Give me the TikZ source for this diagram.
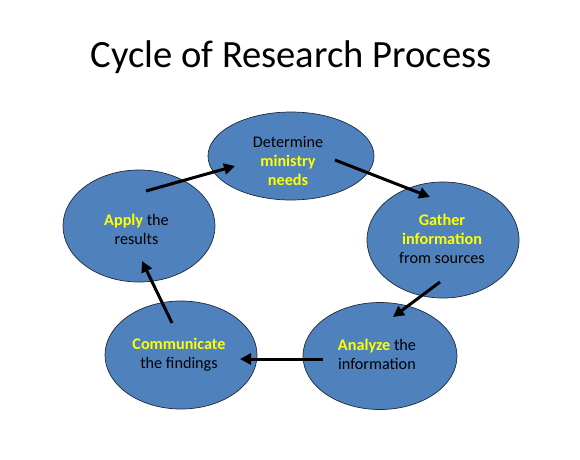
\documentclass[tikz,border=0pt]{standalone}
\usepackage{fontspec}
\setmainfont{Carlito}
\usetikzlibrary{shapes.geometric,arrows.meta}
\definecolor{ellfill}{HTML}{4F81BD}
\definecolor{ellline}{HTML}{1F2A3A}
\definecolor{hl}{HTML}{FFFF00}
\tikzset{
  stage/.style={ellipse, draw=ellline, line width=0.7pt, fill=ellfill, inner sep=0pt},
  lbl/.style={align=center, font=\fontsize{16.2}{19}\selectfont, text=black, inner sep=0pt},
  flow/.style={line width=3pt, -{Triangle[length=11pt,width=11pt]}, black}
}
\newcommand{\hlt}[1]{\textcolor{hl}{\textbf{#1}}}
\begin{document}
\begin{tikzpicture}[x=1pt,y=-1pt]
\useasboundingbox[fill=white] (0,0) rectangle (580,459);
\node[font=\fontsize{38.6}{44}\selectfont] (title) at (291,57) {Cycle of Research Process};

\node[stage, minimum width=166pt, minimum height=88pt] (det) at (291,156) {};
\node[stage, minimum width=152pt, minimum height=116pt] (gat) at (443,240) {};
\node[stage, minimum width=154pt, minimum height=107pt] (ana) at (380,356) {};
\node[stage, minimum width=152pt, minimum height=108pt] (com) at (181,355) {};
\node[stage, minimum width=152pt, minimum height=112pt] (app) at (139,226) {};

\node[lbl] (tdet) at (288,161) {Determine\\\hlt{ministry}\\\hlt{needs}};
\node[lbl] (tgat) at (442,239) {\hlt{Gather}\\\hlt{information}\\from sources};
\node[lbl] (tana) at (377,354) {\hlt{Analyze} the\\information};
\node[lbl] (tcom) at (179,354.5) {\hlt{Communicate}\\the findings};
\node[lbl] (tapp) at (136.5,229) {\hlt{Apply} the\\results};

\coordinate (a1s) at (146,191);
\coordinate (a1e) at (235,166);
\coordinate (a2s) at (335,160);
\coordinate (a2e) at (430,197);
\coordinate (a3s) at (440,282);
\coordinate (a3e) at (393,317);
\coordinate (a4s) at (323,359);
\coordinate (a4e) at (240,359);
\coordinate (a5s) at (172,323);
\coordinate (a5e) at (142,261);

\draw[flow] (a1s) -- (a1e);
\draw[flow] (a2s) -- (a2e);
\draw[flow] (a3s) -- (a3e);
\draw[flow] (a4s) -- (a4e);
\draw[flow] (a5s) -- (a5e);
\end{tikzpicture}
\end{document}
